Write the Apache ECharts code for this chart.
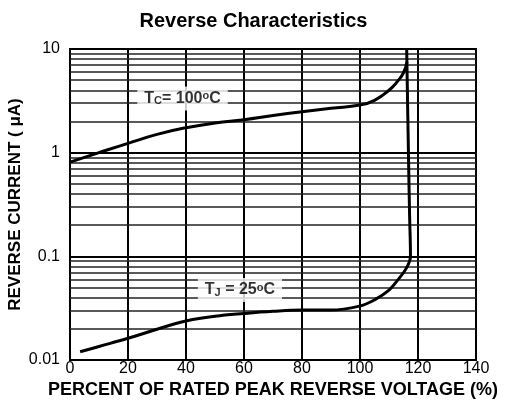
<!DOCTYPE html>
<head>
    <meta charset="UTF-8">
    <title>Reverse Characteristics</title>
    <script src="https://cdn.jsdelivr.net/npm/echarts@6/dist/echarts.min.js"></script>
</head>
<body style="margin:0">
<div id="chart" style="height:413px;width:507px;"></div>
<script type="text/javascript">

    // Tc = 100C curve (percent of rated voltage, current in uA)
    var tc100X = [0, 10, 20, 30, 40, 50, 60, 70, 80, 90, 100, 105, 110, 113, 115, 116.2];
    var tc100Y = [0.81, 1.0, 1.23, 1.5, 1.74, 1.93, 2.08, 2.28, 2.48, 2.68, 2.88, 3.2, 4.0, 4.9, 5.9, 7.5];

    // Tj = 25C curve
    var tj25X = [3.5, 10, 20, 30, 40, 50, 60, 70, 80, 90, 100, 105, 110, 113, 116, 117.4, 117.1, 116.7, 116.1];
    var tj25Y = [0.012, 0.0135, 0.0162, 0.0198, 0.0238, 0.0264, 0.0281, 0.0295, 0.0303, 0.0303, 0.0332, 0.038, 0.0473, 0.059, 0.077, 0.1, 0.25, 1, 10];

    var yTickLabels = ['0.01', '0.1', '1', '10'];
    var minorGrid = [0.02, 0.03, 0.04, 0.05, 0.06, 0.07, 0.08, 0.09,
        0.2, 0.3, 0.4, 0.5, 0.6, 0.7, 0.8, 0.9,
        2, 3, 4, 5, 6, 7, 8, 9];

    // curve labels: [x, y, text]
    var curveLabels = [
        [38.8, 3.33, '{t|T}{sub|C}{t|= 100}{sup|o}{t|C}'],
        [58.6, 0.0473, '{t|T}{sub|J}{t| = 25}{sup|o}{t|C}']
    ];

    function pairs(xs, ys) {
        return xs.map(function (x, i) {
            return [x, ys[i]];
        });
    }

    var font = 'Liberation Sans, Arial, sans-serif';
    var chart = echarts.init(document.getElementById('chart'));

    chart.setOption({
        animation: false,
        backgroundColor: '#fff',
        title: {
            text: 'Reverse Characteristics',
            left: 'center',
            top: 6,
            textStyle: {fontFamily: font, fontSize: 20, fontWeight: 'bold', color: '#000'}
        },
        grid: {
            left: 70, right: 31, top: 49, bottom: 53,
            outerBoundsMode: 'none',
            show: true, borderColor: '#000', borderWidth: 2
        },
        xAxis: {
            type: 'value',
            min: 0, max: 140, interval: 20,
            axisLine: {lineStyle: {color: '#000', width: 2}},
            axisTick: {show: false},
            splitLine: {lineStyle: {color: '#000', width: 2}},
            axisLabel: {fontFamily: font, fontSize: 16, color: '#000', margin: 1},
            name: 'PERCENT OF RATED PEAK REVERSE VOLTAGE (%)',
            nameLocation: 'middle',
            nameGap: 21,
            nameMoveOverlap: false,
            nameTextStyle: {fontFamily: font, fontSize: 18, fontWeight: 'bold', color: '#000'}
        },
        yAxis: {
            type: 'log',
            logBase: 10,
            min: 0.01, max: 10,
            axisLine: {lineStyle: {color: '#000', width: 2}},
            axisTick: {show: false},
            splitLine: {lineStyle: {color: '#000', width: 2}},
            axisLabel: {
                fontFamily: font, fontSize: 16, color: '#000', margin: 10,
                padding: [6, 0, 0, 0],
                formatter: function (v) {
                    var i = Math.round(Math.log10(v)) + 2;
                    return yTickLabels[i];
                }
            },
            name: 'REVERSE CURRENT ( \u03bcA)',
            nameLocation: 'middle',
            nameGap: 46,
            nameMoveOverlap: false,
            nameTextStyle: {fontFamily: font, fontSize: 17, fontWeight: 'bold', color: '#000'}
        },
        series: [
            {
                type: 'line',
                data: [],
                silent: true,
                markLine: {
                    symbol: 'none',
                    silent: true,
                    label: {show: false},
                    lineStyle: {color: '#222', width: 1.5, type: 'solid'},
                    data: minorGrid.map(function (v) {
                        return {yAxis: v};
                    })
                }
            },
            {
                name: 'Tc100',
                type: 'line',
                data: pairs(tc100X, tc100Y),
                smooth: 0.5,
                symbol: 'none',
                z: 5,
                lineStyle: {color: '#000', width: 3}
            },
            {
                name: 'Tj25',
                type: 'line',
                data: pairs(tj25X, tj25Y),
                smooth: 0.4,
                symbol: 'none',
                z: 5,
                lineStyle: {color: '#000', width: 3}
            },
            {
                type: 'scatter',
                z: 10,
                symbolSize: 0,
                data: curveLabels.map(function (d) {
                    return {value: [d[0], d[1]], label: {formatter: d[2]}};
                }),
                label: {
                    show: true,
                    position: 'inside',
                    backgroundColor: '#fff',
                    padding: [4, 7, 4, 7],
                    rich: {
                        t: {fontFamily: font, fontSize: 16, fontWeight: 'bold', color: '#000', lineHeight: 16},
                        sub: {fontFamily: font, fontSize: 11, fontWeight: 'bold', color: '#000', lineHeight: 16, verticalAlign: 'bottom', padding: [7, 0, 0, 0]},
                        sup: {fontFamily: font, fontSize: 11, fontWeight: 'bold', color: '#000', lineHeight: 16, verticalAlign: 'top', padding: [0, 0, 6, 0]}
                    }
                }
            }
        ]
    });
</script>
</body>
</html>
